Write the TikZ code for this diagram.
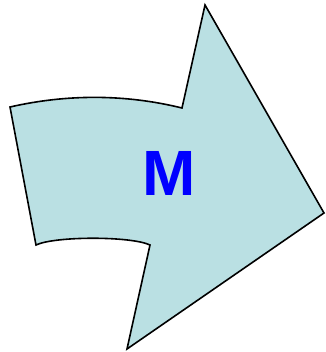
\documentclass[tikz,border=0pt]{standalone}
\usepackage{fontspec}
\setmainfont{Liberation Sans}
\definecolor{arrowfill}{RGB}{186,224,227}
\begin{document}
\begin{tikzpicture}[x=1pt,y=-1pt,
  arrowshape/.style={draw=black,fill=arrowfill,line width=1.6pt,line join=miter},
  label/.style={text=blue,font=\bfseries\fontsize{64}{64}\selectfont,inner sep=0pt}]
\useasboundingbox (0,0) rectangle (325,352);
\coordinate (a) at (10,107);
\coordinate (b) at (182,108);
\coordinate (c) at (205,5);
\coordinate (d) at (324,213);
\coordinate (e) at (127,349);
\coordinate (f) at (150,245);
\coordinate (g) at (36,245);
\draw[arrowshape] (a) .. controls (67,94) and (125,94) .. (b) -- (c) -- (d) -- (e) -- (f)
  .. controls (131,236) and (55,236) .. (g) -- cycle;
\node[label] (m) at (169,173) {M};
\end{tikzpicture}
\end{document}
